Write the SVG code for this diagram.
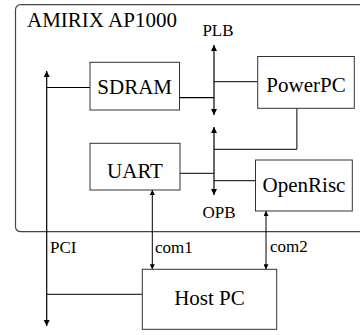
<svg xmlns="http://www.w3.org/2000/svg" width="360" height="335" viewBox="0 0 360 335">
<style>
.box{fill:#fff;stroke:#333;stroke-width:1}
.frame{fill:none;stroke:#444;stroke-width:1.2}
text{font-family:'Liberation Serif','Times New Roman',serif;fill:#000}
.big{font-size:21px}
.small{font-size:17px}
.ln{fill:none;stroke:#000;stroke-width:1.2}
.th{fill:none;stroke:#000;stroke-width:1}
</style>
<defs>
<marker id="ah" viewBox="0 0 10 10" refX="10" refY="5" markerWidth="6" markerHeight="9" markerUnits="userSpaceOnUse" orient="auto-start-reverse"><path d="M0,0 L10,5 L0,10 z" fill="#000"/></marker>
<marker id="as" viewBox="0 0 10 10" refX="10" refY="5" markerWidth="7" markerHeight="5" markerUnits="userSpaceOnUse" orient="auto-start-reverse"><path d="M0,0 L10,5 L0,10 z" fill="#000"/></marker>
</defs>
<g id="board">
<rect class="frame" x="15.5" y="4.7" width="360" height="227" rx="5"/>
<text class="big" x="27" y="27">AMIRIX AP1000</text>
</g>
<g id="connectors">
<line class="ln" x1="46.7" y1="326" x2="46.7" y2="71" marker-start="url(#ah)" marker-end="url(#ah)"/>
<line class="ln" x1="214" y1="45" x2="214" y2="115" marker-start="url(#ah)" marker-end="url(#ah)"/>
<line class="ln" x1="214" y1="127" x2="214" y2="195" marker-start="url(#ah)" marker-end="url(#ah)"/>
<polyline class="th" points="46.7,87.5 90,87.5"/>
<polyline class="ln" points="179.5,97.7 214,97.7"/>
<polyline class="th" points="214,81.7 257.7,81.7"/>
<polyline class="th" points="296.9,108.3 296.9,149.3 214,149.3"/>
<polyline class="th" points="180,173.3 214,173.3"/>
<polyline class="th" points="214,180.7 255.5,180.7"/>
<polyline class="th" points="46.7,294.3 142.3,294.3"/>
<line class="th" x1="152.3" y1="190" x2="152.3" y2="269.3" marker-start="url(#as)" marker-end="url(#as)"/>
<line class="th" x1="266" y1="211" x2="266" y2="269.3" marker-start="url(#as)" marker-end="url(#as)"/>
<text class="small" x="218" y="36" text-anchor="middle">PLB</text>
<text class="small" x="219" y="217.7" text-anchor="middle">OPB</text>
<text class="small" x="50" y="253.3">PCI</text>
<text class="small" x="155" y="253.3">com1</text>
<text class="small" x="270" y="252.3">com2</text>
</g>
<g id="sdram">
<rect class="box" x="90" y="62.3" width="89.5" height="47.7"/>
<text class="big" x="134.7" y="94" text-anchor="middle">SDRAM</text>
</g>
<g id="powerpc">
<rect class="box" x="257.7" y="56.5" width="96.6" height="51.8"/>
<text class="big" x="306" y="91.5" text-anchor="middle">PowerPC</text>
</g>
<g id="uart">
<rect class="box" x="90" y="143.3" width="90" height="46.7"/>
<text class="big" x="135" y="178" text-anchor="middle">UART</text>
</g>
<g id="openrisc">
<rect class="box" x="255.5" y="160" width="96.8" height="51"/>
<text class="big" x="304" y="192.3" text-anchor="middle">OpenRisc</text>
</g>
<g id="hostpc">
<rect class="box" x="142.3" y="269.3" width="134.4" height="60"/>
<text class="big" x="209.5" y="304.5" text-anchor="middle">Host PC</text>
</g>
</svg>
